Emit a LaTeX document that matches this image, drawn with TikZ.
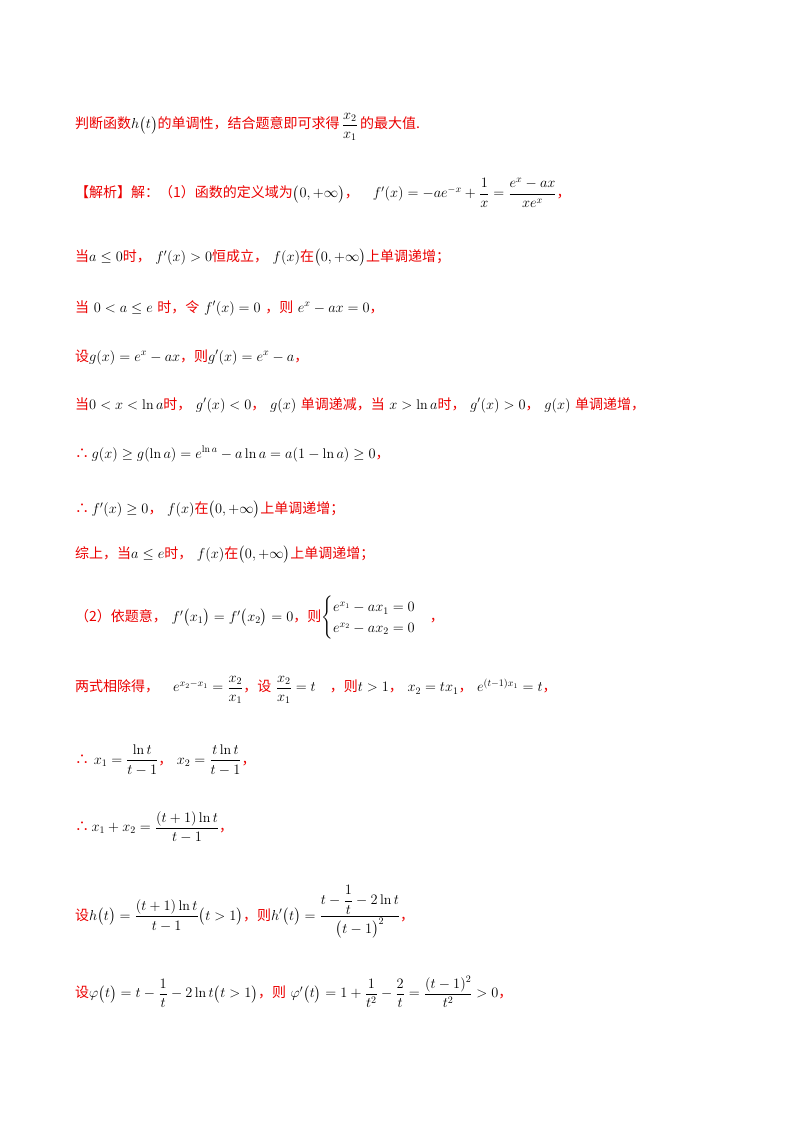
\documentclass[tikz,border=0pt]{standalone}
\usepackage{amsmath}
\usepackage{fontspec}
\newfontfamily\cjk{Noto Sans CJK SC}
\definecolor{rd}{RGB}{235,0,0}
\newcommand{\R}[1]{\textcolor{rd}{\cjk #1}}
\begin{document}
\begin{tikzpicture}[x=1pt,y=-1pt,every node/.style={anchor=west,inner sep=0pt,font=\fontsize{14}{17}\selectfont}]
\useasboundingbox (0,0) rectangle (800,1132);
\node (l1) at (75,127) {\R{判断函数}$h\big(t\big)$\R{的单调性，结合题意即可求得}\,$\dfrac{x_2}{x_1}$\,\R{的最大值.}};
\node (l2) at (75,193) {\R{【解析】解：（1）函数的定义域为}$\big(0,+\infty\big)$\R{，}\quad $f'(x)=-ae^{-x}+\dfrac{1}{x}=\dfrac{e^x-ax}{xe^x}$\R{，}};
\node (l3) at (75,258) {\R{当}$a\le0$\R{时，}\ $f'(x)>0$\R{恒成立，}\ $f(x)$\R{在}$\big(0,+\infty\big)$\R{上单调递增；}};
\node (l4) at (75,308) {\R{当}\ $0<a\le e$\ \R{时，令}\ $f'(x)=0$\ \R{，则}\ $e^x-ax=0$\R{，}};
\node (l5) at (75,357) {\R{设}$g(x)=e^x-ax$\R{，则}$g'(x)=e^x-a$\R{，}};
\node (l6) at (75,405) {\R{当}$0<x<\ln a$\R{时，}\ $g'(x)<0$\R{，}\ $g(x)$\ \R{单调递减，当}\ $x>\ln a$\R{时，}\ $g'(x)>0$\R{，}\ $g(x)$\ \R{单调递增，}};
\node (l7) at (75,454) {\R{∴}\,$g(x)\ge g(\ln a)=e^{\ln a}-a\ln a=a(1-\ln a)\ge0$\R{，}};
\node (l8) at (75,510) {\R{∴}\,$f'(x)\ge0$\R{，}\ $f(x)$\R{在}$\big(0,+\infty\big)$\R{上单调递增；}};
\node (l9) at (75,555) {\R{综上，当}$a\le e$\R{时，}\ $f(x)$\R{在}$\big(0,+\infty\big)$\R{上单调递增；}};
\node (l10) at (75,618) {\R{（2）依题意，}\ $f'\big(x_1\big)=f'\big(x_2\big)=0$\R{，则}$\begin{cases}e^{x_1}-ax_1=0\\ e^{x_2}-ax_2=0\end{cases}$\R{，}};
\node (l11) at (75,690) {\R{两式相除得，}\quad $e^{x_2-x_1}=\dfrac{x_2}{x_1}$\R{，设}\ $\dfrac{x_2}{x_1}=t$\quad\R{，则}$t>1$\R{，}\ $x_2=tx_1$\R{，}\ $e^{(t-1)x_1}=t$\R{，}};
\node (l12) at (75,760) {\R{∴}\ $x_1=\dfrac{\ln t}{t-1}$\R{，}\ $x_2=\dfrac{t\ln t}{t-1}$\R{，}};
\node (l13) at (75,827) {\R{∴}\,$x_1+x_2=\dfrac{(t+1)\ln t}{t-1}$\R{，}};
\node (l14) at (75,912) {\R{设}$h\big(t\big)=\dfrac{(t+1)\ln t}{t-1}\big(t>1\big)$\R{，则}$h'\big(t\big)=\dfrac{t-\dfrac1t-2\ln t}{\big(t-1\big)^2}$\R{，}};
\node (l15) at (75,992) {\R{设}$\varphi\big(t\big)=t-\dfrac1t-2\ln t\big(t>1\big)$\R{，则}\ $\varphi'\big(t\big)=1+\dfrac{1}{t^2}-\dfrac2t=\dfrac{(t-1)^2}{t^2}>0$\R{，}};
\end{tikzpicture}
\end{document}
